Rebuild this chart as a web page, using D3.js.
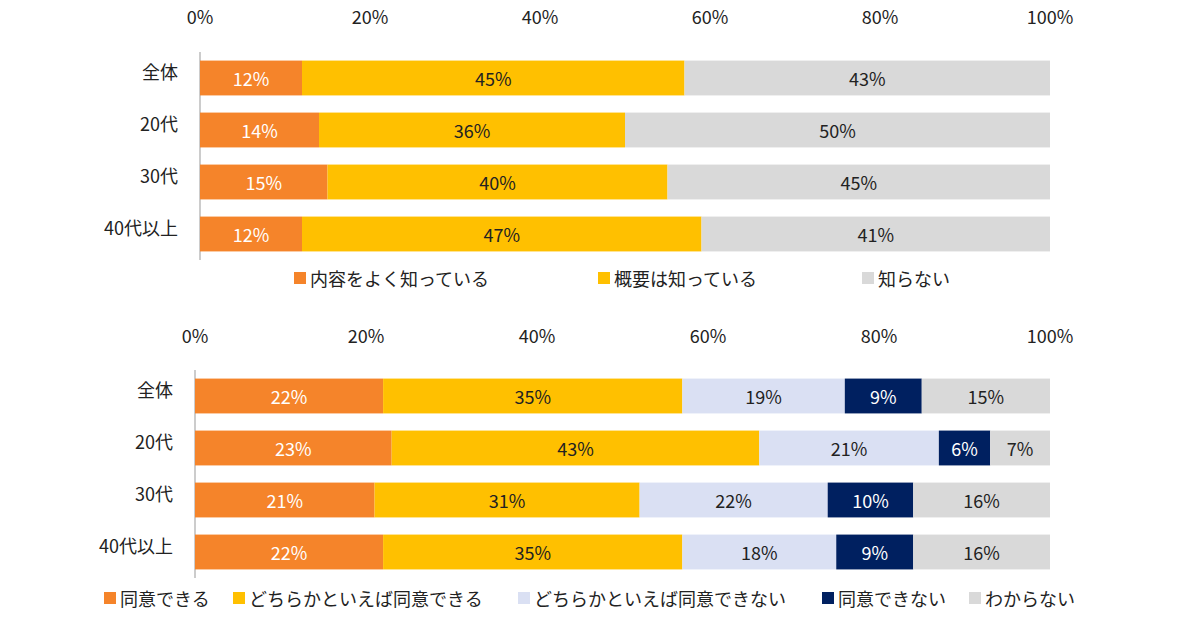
<!DOCTYPE html>
<html><head><meta charset="utf-8">
<script src="https://cdn.jsdelivr.net/npm/d3@7"></script>
<style>body{margin:0;background:#fff}text{font-family:"Noto Sans CJK JP","Noto Sans",sans-serif}</style>
</head><body>
<svg id="c" width="1200" height="630"></svg>
<script>
const categories = ["全体", "20代", "30代", "40代以上"];
const ticks = [0, 20, 40, 60, 80, 100];

const topSeries = ["内容をよく知っている", "概要は知っている", "知らない"];
const topValues = [
  [12, 45, 43],
  [14, 36, 50],
  [15, 40, 45],
  [12, 47, 41]
];
const topColors = ["#F5842A", "#FFC000", "#D9D9D9"];
const topText = ["#fff", "#222", "#222"];

const botSeries = ["同意できる", "どちらかといえば同意できる", "どちらかといえば同意できない", "同意できない", "わからない"];
const botValues = [
  [22, 35, 19, 9, 15],
  [23, 43, 21, 6, 7],
  [21, 31, 22, 10, 16],
  [22, 35, 18, 9, 16]
];
const botColors = ["#F5842A", "#FFC000", "#DAE0F3", "#002060", "#D9D9D9"];
const botText = ["#fff", "#222", "#222", "#fff", "#222"];

const svg = d3.select("#c");

function drawChart(cfg) {
  const g = svg.append("g");
  const x = d3.scaleLinear().domain([0, 100]).range([cfg.x0, 1050]);
  const y = d3.scaleBand().domain(categories).range([cfg.barTop, cfg.barTop + 52 * 4]).paddingInner(0.33).paddingOuter(0.165);

  g.selectAll(".tick").data(ticks).join("text")
    .attr("x", d => x(d)).attr("y", cfg.tickY).attr("text-anchor", "middle")
    .attr("font-size", 18).attr("fill", "#222").text(d => d + "%");

  g.append("line").attr("x1", cfg.x0).attr("x2", cfg.x0)
    .attr("y1", cfg.barTop).attr("y2", cfg.barTop + 52 * 4).attr("stroke", "#999");

  categories.forEach((c, i) => {
    g.append("text").attr("x", cfg.x0 - 22).attr("y", y(c) + y.bandwidth() / 2 - 4)
      .attr("text-anchor", "end").attr("dominant-baseline", "middle")
      .attr("font-size", 18).attr("fill", "#222").text(c);
    let acc = 0;
    cfg.values[i].forEach((v, j) => {
      g.append("rect").attr("x", x(acc)).attr("width", x(acc + v) - x(acc))
        .attr("y", y(c)).attr("height", y.bandwidth()).attr("fill", cfg.colors[j]);
      g.append("text").attr("x", x(acc + v / 2)).attr("y", y(c) + y.bandwidth() / 2)
        .attr("text-anchor", "middle").attr("dominant-baseline", "central")
        .attr("font-size", 18).attr("fill", cfg.textColors[j]).text(v + "%");
      acc += v;
    });
  });

  cfg.series.forEach((s, j) => {
    const lx = cfg.legendX[j];
    g.append("rect").attr("x", lx).attr("y", cfg.legendY - 6).attr("width", 12).attr("height", 12).attr("fill", cfg.colors[j]);
    g.append("text").attr("x", lx + 16).attr("y", cfg.legendY).attr("dominant-baseline", "central")
      .attr("font-size", 18).attr("fill", "#222").text(s);
  });
}

drawChart({x0: 200, tickY: 24, barTop: 52, values: topValues, colors: topColors, textColors: topText,
  series: topSeries, legendX: [294, 598, 862], legendY: 278});
drawChart({x0: 195, tickY: 343, barTop: 370, values: botValues, colors: botColors, textColors: botText,
  series: botSeries, legendX: [104, 233, 518, 822, 969], legendY: 598});
</script>
</body></html>
